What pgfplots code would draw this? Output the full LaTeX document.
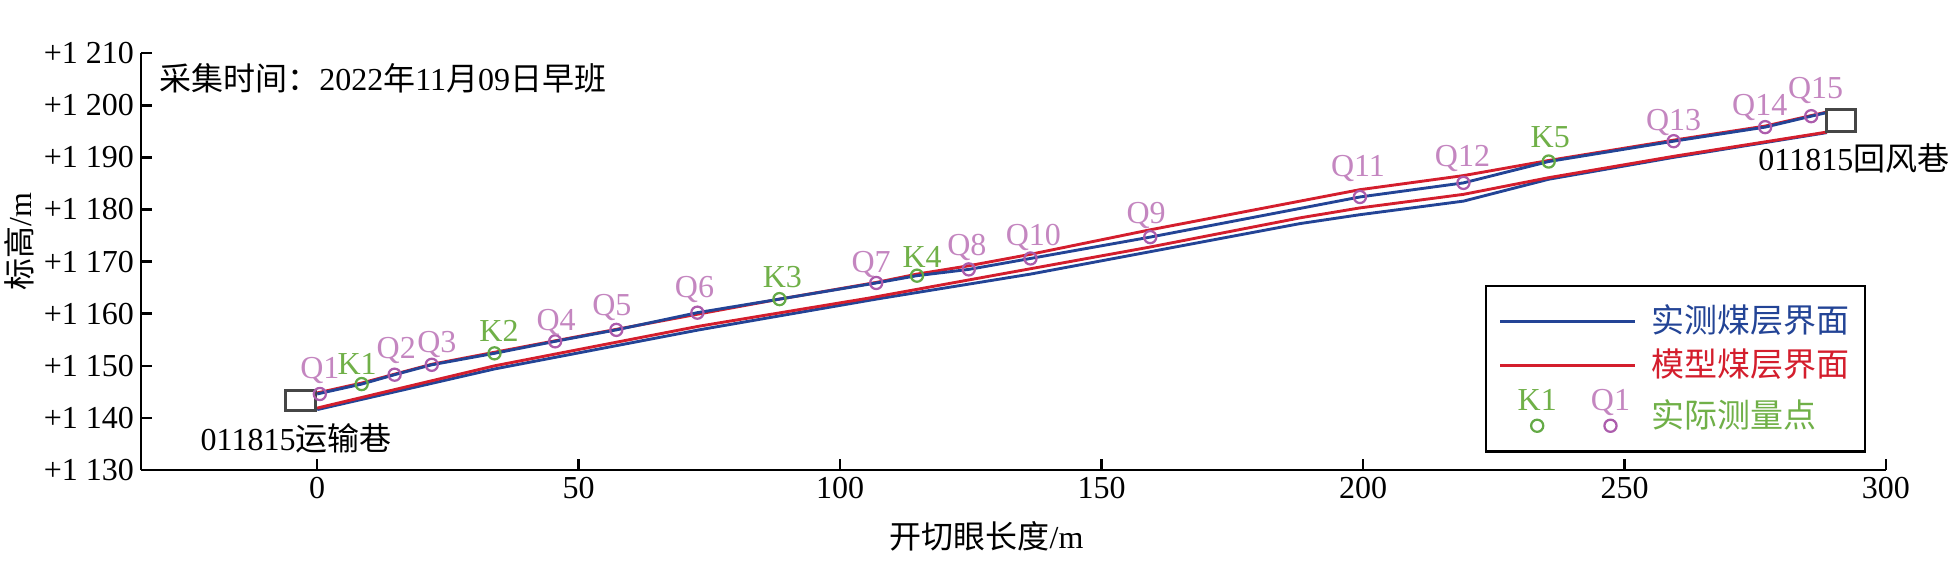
\documentclass[border=0pt]{standalone}
\usepackage{fontspec}
\setmainfont{Liberation Serif}
\newfontfamily\cjk{Noto Sans CJK SC}
\usepackage{pgfplots}
\usepackage{pgfplotstable}
\pgfplotsset{compat=1.18}

\definecolor{lblue}{RGB}{35,68,150}
\definecolor{lred}{RGB}{212,30,45}
\definecolor{kgreen}{RGB}{112,176,72}
\definecolor{kmark}{RGB}{100,170,70}
\definecolor{qlabel}{RGB}{196,134,192}
\definecolor{qmark}{RGB}{172,92,172}
\definecolor{boxgray}{RGB}{70,70,70}

\pgfplotstableread{
x y
0 1144.6
8.5 1146.5
14.8 1148.3
21.9 1150.2
33.9 1152.4
45.5 1154.7
57.2 1156.9
72.7 1160.2
88.4 1162.8
106.9 1165.9
114.7 1167.3
124.6 1168.5
136.4 1170.6
159.3 1174.7
199.4 1182.4
219.2 1185.1
235.5 1189.2
259.4 1193.1
276.9 1195.8
285.7 1197.9
288.7 1198.6
}\blueupper

\pgfplotstableread{
x y
0 1144.8
8.5 1146.7
14.8 1148.4
21.9 1150.3
33.9 1152.6
45.5 1154.8
57.2 1157.0
72.7 1159.9
88.4 1162.8
106.9 1166.0
114.7 1167.6
124.6 1169.2
136.4 1171.4
159.3 1176.1
199.4 1183.8
219.2 1186.5
235.5 1189.4
259.4 1193.3
276.9 1196.0
288.7 1198.7
}\redupper

\pgfplotstableread{
x y
0 1141.6
20 1146.2
33.9 1149.4
73 1156.9
106.9 1162.8
136.4 1167.6
159.3 1171.9
188 1177.3
199.4 1179.0
219.2 1181.6
235.5 1185.8
259.4 1190.0
288.7 1194.75
}\bluelower

\pgfplotstableread{
x y
0 1141.9
33.9 1150.0
73 1157.6
105.5 1163.0
159.3 1172.8
188 1178.4
199.4 1180.3
219.2 1182.9
235.5 1186.1
259.4 1190.2
288.7 1194.85
}\redlower

\pgfplotstableread{
label x y dx dy
K1 8.5 1146.5 -1.4 3.1
K2 33.9 1152.4 1.4 3.6
K3 88.4 1162.8 0.9 3.7
K4 114.7 1167.3 1.6 2.5
K5 235.5 1189.2 0.5 4.4
}\kpts

\pgfplotstableread{
label x y dx dy
Q1 0.5 1144.6 0 4.7
Q2 14.8 1148.3 0.5 5.0
Q3 21.9 1150.2 1.6 3.8
Q4 45.5 1154.7 0.3 3.4
Q5 57.2 1156.9 -1.4 4.4
Q6 72.7 1160.2 -0.9 4.7
Q7 106.9 1165.9 -1.6 3.4
Q8 124.6 1168.5 -0.6 4.4
Q9 159.3 1174.7 -1.3 4.4
Q10 136.4 1170.6 0.9 4.1
Q11 199.4 1182.4 -0.6 6.3
Q12 219.2 1185.1 -0.3 5.0
Q13 259.4 1193.1 0 3.4
Q14 276.9 1195.8 -1.7 3.75
Q15 285.7 1197.9 1.4 5.6
}\qpts

\begin{document}
\begin{tikzpicture}
\useasboundingbox (-44.06pt,-34.69pt) rectangle (567.5pt,146.9pt);
\begin{axis}[
  scale only axis,
  width=545.3pt, height=130.3pt,
  xmin=-33.7, xmax=300, ymin=1130, ymax=1210,
  axis x line*=bottom, axis y line*=left,
  axis line style={-, line width=0.8pt, black},
  tick style={line width=0.8pt, black},
  tick align=inside,
  major tick length=3.5pt,
  xtick={0,50,...,300},
  ytick={1130,1140,...,1210},
  yticklabels={+1 130,+1 140,+1 150,+1 160,+1 170,+1 180,+1 190,+1 200,+1 210},
  /pgf/number format/assume math mode=true,
  xticklabel style={inner sep=2pt},
  yticklabel style={inner sep=2pt},
  xlabel={{\cjk 开切眼长度}/m},
  ylabel={{\cjk 标高}/m},
  xlabel style={at={(axis description cs:0.4846,-0.16)}, anchor=center},
  ylabel style={at={(axis description cs:-0.0696,0.549)}, anchor=center},
  clip=false,
  legend image code/.code={\draw[#1] (0pt,0pt) -- (42pt,0pt);},
  legend style={at={(axis cs:223.3,1165.6)}, anchor=north west,
    draw=black, line width=0.8pt, fill=white,
    inner xsep=4pt, inner ysep=5pt, row sep=1.5pt,
    column sep=3.7pt,
    nodes={inner sep=1pt},
    font=\cjk\fontsize{10.3pt}{12pt}\selectfont},
  legend cell align=left,
]
\addplot[lred, line width=0.9pt, forget plot] table[x=x,y=y] {\redupper};
\addplot[lblue, line width=0.9pt, forget plot] table[x=x,y=y] {\blueupper};
\addplot[lblue, line width=0.9pt, forget plot] table[x=x,y=y] {\bluelower};
\addplot[lred, line width=0.9pt, forget plot] table[x=x,y=y] {\redlower};

\addplot[boxgray, line width=0.9pt, forget plot] coordinates {(-6.07,1141.5) (-0.34,1141.5) (-0.34,1145.2) (-6.07,1145.2)} -- cycle;
\addplot[boxgray, line width=0.9pt, forget plot] coordinates {(288.7,1194.9) (294.2,1194.9) (294.2,1199.2) (288.7,1199.2)} -- cycle;

\addplot[only marks, mark=o, mark size=1.9pt, mark options={line width=0.7pt, draw=qmark}, forget plot,
  point meta=explicit symbolic,
  visualization depends on={\thisrow{dx} \as \ldx},
  visualization depends on={\thisrow{dy} \as \ldy},
  nodes near coords,
  nodes near coords style={text=qlabel, anchor=base, inner sep=0pt, xshift=\ldx pt, yshift=\ldy pt}]
  table[x=x,y=y,meta=label] {\qpts};
\addplot[only marks, mark=o, mark size=1.9pt, mark options={line width=0.7pt, draw=kmark}, forget plot,
  point meta=explicit symbolic,
  visualization depends on={\thisrow{dx} \as \ldx},
  visualization depends on={\thisrow{dy} \as \ldy},
  nodes near coords,
  nodes near coords style={text=kgreen, anchor=base, inner sep=0pt, xshift=\ldx pt, yshift=\ldy pt}]
  table[x=x,y=y,meta=label] {\kpts};

\addlegendimage{lblue, line width=0.9pt}
\addlegendentry{\textcolor{lblue}{实测煤层界面}}
\addlegendimage{lred, line width=0.9pt}
\addlegendentry{\textcolor{lred}{模型煤层界面}}
\addlegendimage{legend image code/.code={
  \node[text=kgreen, inner sep=0pt, anchor=center, font=\rmfamily\fontsize{10pt}{12pt}\selectfont] at (11.5pt,4.2pt) {K1};
  \draw[kmark, line width=0.7pt] (11.5pt,-3.1pt) circle[radius=1.9pt];
  \node[text=qlabel, inner sep=0pt, anchor=center, font=\rmfamily\fontsize{10pt}{12pt}\selectfont] at (34.4pt,4.2pt) {Q1};
  \draw[qmark, line width=0.7pt] (34.4pt,-3.1pt) circle[radius=1.9pt];
}}
\addlegendentry{\textcolor{kgreen}{实际测量点}}

\node[anchor=base west, inner sep=0pt] at (axis cs:-30.3,1202.75) {{\cjk 采集时间：}2022{\cjk 年}11{\cjk 月}09{\cjk 日早班}};
\node[anchor=base west, inner sep=0pt] at (axis cs:-22.4,1133.85) {011815{\cjk 运输巷}};
\node[anchor=base west, inner sep=0pt] at (axis cs:275.5,1187.4) {011815{\cjk 回风巷}};
\end{axis}
\end{tikzpicture}
\end{document}
